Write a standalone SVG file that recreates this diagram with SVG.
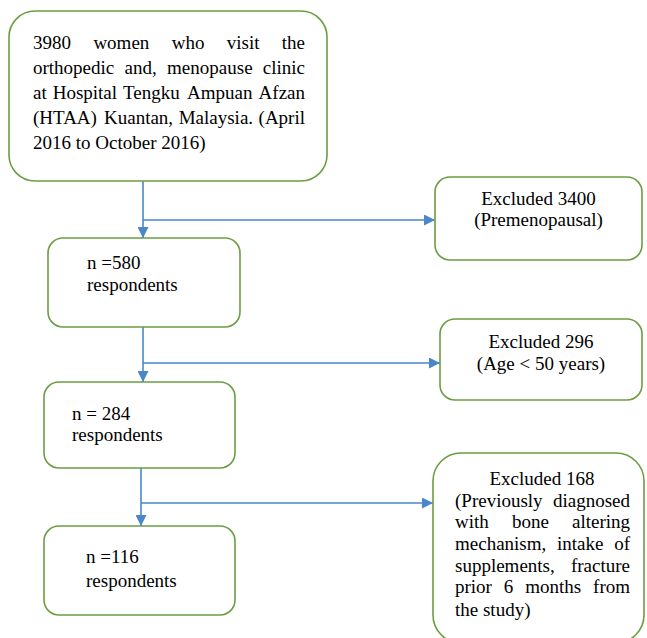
<svg xmlns="http://www.w3.org/2000/svg" width="647" height="638" viewBox="0 0 647 638">
<style>
.box{fill:#fff;stroke:#6b9e43;stroke-width:1.6}
.t{font-family:"Liberation Serif","Times New Roman",serif;font-size:19px;fill:#000}
.c{text-anchor:middle}
.e{text-anchor:end}
.ln{fill:none;stroke:#4a86c8;stroke-width:1.6}
</style>
<defs>
<marker id="ah" markerUnits="userSpaceOnUse" markerWidth="11" markerHeight="11" refX="11" refY="5.5" orient="auto">
<path d="M0,0 L11,5.5 L0,11 z" fill="#4a86c8"/>
</marker>
</defs>
<rect width="647" height="638" fill="#fff"/>
<g id="connectors">
<line class="ln" x1="143" y1="181" x2="143" y2="238" marker-end="url(#ah)"/>
<line class="ln" x1="143" y1="220" x2="435" y2="220" marker-end="url(#ah)"/>
<line class="ln" x1="143" y1="327" x2="143" y2="382" marker-end="url(#ah)"/>
<line class="ln" x1="143" y1="363" x2="440" y2="363" marker-end="url(#ah)"/>
<line class="ln" x1="141" y1="468" x2="141" y2="526" marker-end="url(#ah)"/>
<line class="ln" x1="141" y1="503" x2="433" y2="503" marker-end="url(#ah)"/>
</g>
<g id="node-population">
<rect class="box" x="9" y="11" width="318" height="170" rx="26" ry="26"/>
<text class="t" y="49"><tspan x="33">3980</tspan><tspan x="93.4">women</tspan><tspan x="171.7">who</tspan><tspan x="226.8">visit</tspan><tspan x="305" class="e">the</tspan></text>
<text class="t" y="74"><tspan x="33">orthopedic</tspan><tspan x="124.6">and,</tspan><tspan x="167.1">menopause</tspan><tspan x="305" class="e">clinic</tspan></text>
<text class="t" y="99"><tspan x="33">at</tspan><tspan x="52.7">Hospital</tspan><tspan x="123.1">Tengku</tspan><tspan x="187.1">Ampuan</tspan><tspan x="305" class="e">Afzan</tspan></text>
<text class="t" y="124"><tspan x="33">(HTAA)</tspan><tspan x="104">Kuantan,</tspan><tspan x="178.7">Malaysia.</tspan><tspan x="305" class="e">(April</tspan></text>
<text class="t" x="33" y="149">2016 to October 2016)</text>
</g>
<g id="node-excl-3400">
<rect class="box" x="435" y="177" width="207" height="83" rx="15" ry="15"/>
<text class="t c" x="538.5" y="205">Excluded 3400</text>
<text class="t c" x="538.5" y="226">(Premenopausal)</text>
</g>
<g id="node-580">
<rect class="box" x="48" y="238" width="192" height="89" rx="15" ry="15"/>
<text class="t" x="87" y="269">n =580</text>
<text class="t" x="87" y="291">respondents</text>
</g>
<g id="node-excl-296">
<rect class="box" x="440" y="319" width="202" height="81" rx="15" ry="15"/>
<text class="t c" x="541" y="348">Excluded 296</text>
<text class="t c" x="541" y="370">(Age &lt; 50 years)</text>
</g>
<g id="node-284">
<rect class="box" x="44" y="382" width="191" height="86" rx="15" ry="15"/>
<text class="t" x="72" y="420">n = 284</text>
<text class="t" x="72" y="441">respondents</text>
</g>
<g id="node-excl-168">
<rect class="box" x="433" y="453" width="211" height="190" rx="28" ry="28"/>
<text class="t c" x="542" y="485">Excluded 168</text>
<text class="t" y="507"><tspan x="455">(Previously</tspan><tspan x="630" class="e">diagnosed</tspan></text>
<text class="t" y="528"><tspan x="455">with</tspan><tspan x="511.9">bone</tspan><tspan x="630" class="e">altering</tspan></text>
<text class="t" y="550"><tspan x="455">mechanism,</tspan><tspan x="557">intake</tspan><tspan x="630" class="e">of</tspan></text>
<text class="t" y="572"><tspan x="455">supplements,</tspan><tspan x="630" class="e">fracture</tspan></text>
<text class="t" y="593"><tspan x="455">prior</tspan><tspan x="503.8">6</tspan><tspan x="525.2">months</tspan><tspan x="630" class="e">from</tspan></text>
<text class="t" x="455" y="616">the study)</text>
</g>
<g id="node-116">
<rect class="box" x="44" y="526" width="191" height="89" rx="15" ry="15"/>
<text class="t" x="86" y="563">n =116</text>
<text class="t" x="86" y="587">respondents</text>
</g>
</svg>
